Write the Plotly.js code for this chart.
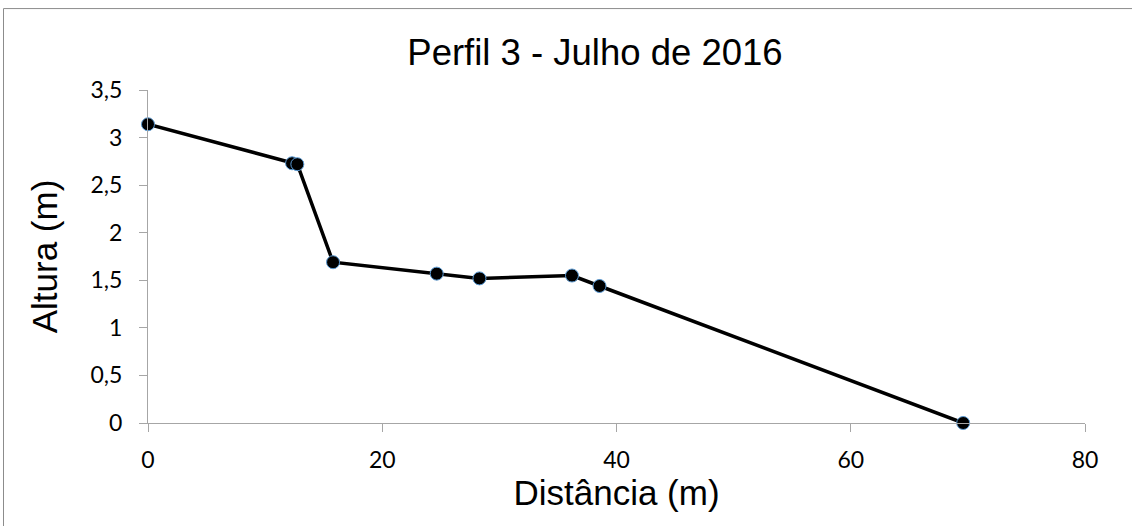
<!DOCTYPE html>
<html>
<head>
<meta charset="utf-8">
<script src="https://cdn.plot.ly/plotly-3.0.1.min.js"></script>
<style>
  html, body { margin: 0; padding: 0; background: #fff; }
  #chart { width: 1132px; height: 526px; }
</style>
</head>
<body>
<div id="chart"></div>
<script>
// Data
const distancia = [0, 12.3, 12.75, 15.8, 24.65, 28.3, 36.2, 38.55, 69.6];
const altura    = [3.14, 2.73, 2.72, 1.69, 1.57, 1.52, 1.55, 1.44, 0];

const chartTitle = 'Perfil 3 - Julho de 2016';
const xTitle = 'Distância (m)';
const yTitle = 'Altura (m)';
const xTicks = [0, 20, 40, 60, 80];
const yTicks = [0, 0.5, 1, 1.5, 2, 2.5, 3, 3.5];

const trace = {
  x: distancia,
  y: altura,
  type: 'scatter',
  mode: 'lines+markers',
  cliponaxis: false,
  line: { color: '#000000', width: 3.5 },
  marker: { size: 13, color: '#000000', line: { color: '#5b9bd5', width: 1 } },
  hoverinfo: 'x+y',
  showlegend: false
};

const axisCommon = {
  showgrid: false,
  zeroline: false,
  showline: true,
  linecolor: '#a6a6a6',
  linewidth: 1,
  ticks: 'outside',
  ticklen: 8,
  tickwidth: 1,
  tickcolor: '#a6a6a6',
  tickfont: { family: 'Lato, "Open Sans", sans-serif', size: 23, color: '#000000' }
};

const layout = {
  width: 1132,
  height: 526,
  separators: ',.',
  paper_bgcolor: '#ffffff',
  plot_bgcolor: '#ffffff',
  margin: { l: 148, r: 47, t: 90, b: 103 },
  title: {
    text: chartTitle,
    font: { family: '"Liberation Sans", Arial, sans-serif', size: 36.5, color: '#000000' },
    x: 0.5256, xanchor: 'center', xref: 'container',
    y: 1 - 52 / 526, yanchor: 'middle', yref: 'container'
  },
  xaxis: Object.assign({}, axisCommon, {
    range: [0, 80],
    tickmode: 'array',
    tickvals: xTicks,
    ticklabelstandoff: 8,
    title: {
      text: xTitle,
      font: { family: '"Liberation Sans", Arial, sans-serif', size: 35, color: '#000000' },
      standoff: 6
    }
  }),
  yaxis: Object.assign({}, axisCommon, {
    range: [0, 3.5],
    tickmode: 'array',
    tickvals: yTicks,
    ticklabelstandoff: 12,
    title: {
      text: yTitle,
      font: { family: '"Liberation Sans", Arial, sans-serif', size: 35, color: '#000000' },
      standoff: 22
    }
  }),
  shapes: [{
    type: 'rect', xref: 'paper', yref: 'paper',
    x0: (3.5 - 148) / 937, x1: 1.3,
    y0: -0.6, y1: (423.3 - 8.5) / 333.3,
    line: { color: '#8c8c8c', width: 1 },
    fillcolor: 'rgba(0,0,0,0)',
    layer: 'below'
  }]
};

Plotly.newPlot('chart', [trace], layout, { displayModeBar: false, staticPlot: true });
</script>
</body>
</html>
